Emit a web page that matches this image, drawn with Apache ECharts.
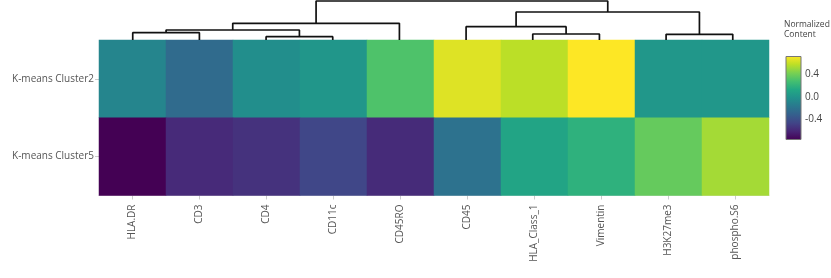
<!DOCTYPE html>
<html>
<head>
<meta charset="utf-8">
<script src="https://cdn.jsdelivr.net/npm/echarts@6/dist/echarts.min.js"></script>
<style>
  html, body { margin: 0; padding: 0; background: #fff; }
  #chart { width: 831px; height: 278px; }
</style>
</head>
<body>
<div id="chart"></div>
<script>
// ---- data ----
const categories = ['HLA.DR', 'CD3', 'CD4', 'CD11c', 'CD45RO', 'CD45', 'HLA_Class_1', 'Vimentin', 'H3K27me3', 'phospho.S6'];
const clusters = ['K-means Cluster2', 'K-means Cluster5'];
const cluster2Values = [-0.09, -0.24, -0.04, 0.01, 0.30, 0.64, 0.56, 0.71, 0.02, 0.02];
const cluster5Values = [-0.75, -0.575, -0.54, -0.44, -0.57, -0.20, 0.10, 0.18, 0.36, 0.51];
const colorbarTicks = [-0.4, 0.0, 0.4];
const colorMin = -0.75;
const colorMax = 0.71;
// dendrogram merges (node ids: 0-9 leaves, 10+ merged clusters in order)
const mergeLeft   = [0, 2, 10, 12, 6, 5, 8, 15, 13];
const mergeRight  = [1, 3, 11, 4, 7, 14, 9, 16, 17];
const mergeHeight = [7.3, 3.3, 10, 16.7, 6, 13.3, 5.7, 28, 39];

const viridis = ['#440154', '#482475', '#414487', '#355f8d', '#2a788e', '#21918c', '#22a884', '#44bf70', '#7ad151', '#bddf26', '#fde725'];

// ---- build ----
const heatData = [];
[cluster2Values, cluster5Values].forEach((row, ri) => {
  row.forEach((v, ci) => heatData.push([ci, ri, v]));
});

const nodeX = categories.map((_, i) => i);
const nodeY = categories.map(() => 0);
const dendroSeries = [];
mergeLeft.forEach((l, i) => {
  const r = mergeRight[i], h = mergeHeight[i];
  dendroSeries.push({
    type: 'line', xAxisIndex: 1, yAxisIndex: 1, silent: true, symbol: 'none',
    lineStyle: { color: '#111', width: 1.7 }, clip: false,
    data: [[nodeX[l], nodeY[l]], [nodeX[l], h], [nodeX[r], h], [nodeX[r], nodeY[r]]]
  });
  nodeX.push((nodeX[l] + nodeX[r]) / 2);
  nodeY.push(h);
});

const font = '"Open Sans", "Noto Sans", sans-serif';
const txt = '#555';

const chart = echarts.init(document.getElementById('chart'), null, { renderer: 'canvas' });
chart.setOption({
  animation: false,
  backgroundColor: '#fff',
  textStyle: { fontFamily: font },
  title: {
    text: 'Normalized\nContent', left: 779, top: 15,
    textStyle: { fontSize: 8.5, fontWeight: 'normal', color: '#444', lineHeight: 10, fontFamily: font }
  },
  grid: [
    { left: 99, top: 40, width: 670, height: 155.5 },
    { left: 99.4, top: 1, width: 666.7, height: 39 },
    {
      left: 786, top: 56.5, width: 15, height: 83, show: true,
      borderColor: '#777', borderWidth: 1,
      backgroundColor: {
        type: 'linear', x: 0, y: 0, x2: 0, y2: 1,
        colorStops: viridis.slice().reverse().map((c, i, a) => ({ offset: i / (a.length - 1), color: c }))
      }
    }
  ],
  xAxis: [
    {
      type: 'category', data: categories, gridIndex: 0, position: 'bottom',
      axisLine: { show: true, lineStyle: { color: '#ddd' } },
      axisTick: { show: true, length: 4, alignWithLabel: true, lineStyle: { color: '#ccc' } },
      axisLabel: { rotate: 90, margin: 9, fontSize: 10, color: txt, fontFamily: font },
      splitLine: { show: false }
    },
    { type: 'value', gridIndex: 1, min: -0.5, max: 9.5, show: false },
    { type: 'value', gridIndex: 2, min: 0, max: 1, show: false }
  ],
  yAxis: [
    {
      type: 'category', data: clusters, gridIndex: 0, inverse: true,
      axisLine: { show: false },
      axisTick: { show: true, length: 4, alignWithLabel: true, lineStyle: { color: '#ccc' } },
      axisLabel: { margin: 5, fontSize: 10, color: txt, fontFamily: font },
      splitLine: { show: false }
    },
    { type: 'value', gridIndex: 1, min: 0, max: 39, show: false },
    {
      type: 'value', gridIndex: 2, min: colorMin, max: colorMax, position: 'right',
      axisLine: { show: false }, axisTick: { show: false }, splitLine: { show: false },
      axisLabel: {
        customValues: colorbarTicks, margin: 4, fontSize: 10, color: '#444', fontFamily: font,
        formatter: v => v.toFixed(1)
      }
    }
  ],
  visualMap: {
    show: false, type: 'continuous', seriesIndex: 0,
    min: colorMin, max: colorMax, inRange: { color: viridis }
  },
  series: [
    {
      type: 'heatmap', xAxisIndex: 0, yAxisIndex: 0, data: heatData, silent: true,
      itemStyle: { borderWidth: 0 }, progressive: 0
    },
    { type: 'scatter', xAxisIndex: 2, yAxisIndex: 2, data: [], silent: true }
  ].concat(dendroSeries)
});
</script>
</body>
</html>
